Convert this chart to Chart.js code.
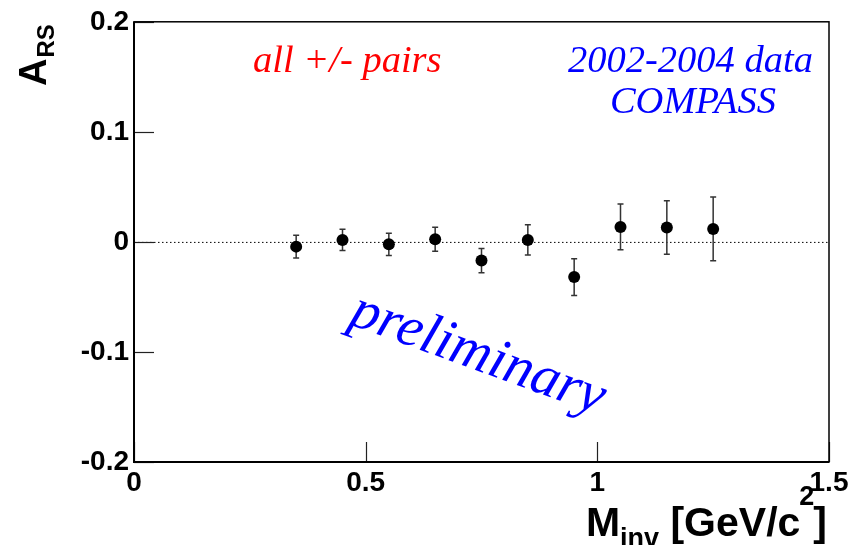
<!DOCTYPE html>
<html>
<head>
<meta charset="utf-8">
<script src="https://cdn.jsdelivr.net/npm/chart.js@4/dist/chart.umd.min.js"></script>
<style>
  html, body { margin: 0; padding: 0; background: #fff; }
  canvas { display: block; }
</style>
</head>
<body>
<canvas id="chart" width="857" height="545"></canvas>
<script>
// invariant mass bins and asymmetry
const massBins = [0.35, 0.45, 0.55, 0.65, 0.75, 0.85, 0.95, 1.05, 1.15, 1.25];
const asymmetry = [-0.0043, 0.0018, -0.0022, 0.0024, -0.017, 0.0018, -0.032, 0.0136, 0.013, 0.0118];
const asymErr = [0.0103, 0.0097, 0.0101, 0.0108, 0.0111, 0.0138, 0.0167, 0.0208, 0.0243, 0.0289];
const xTicks = [0, 0.5, 1, 1.5];
const yTicks = [-0.2, -0.1, 0, 0.1, 0.2];

const BOLD = '"Liberation Sans", Arial, sans-serif';
const SERIF = '"Liberation Serif", "Times New Roman", serif';

// frame, inner ticks, zero line and error bars (ROOT style)
const framePlugin = {
    id: 'framePlugin',
    beforeDatasetsDraw(chart) {
        const { ctx, chartArea: a, scales: { x, y } } = chart;
        ctx.save();

        // dotted line at zero
        const y0 = y.getPixelForValue(0);
        ctx.strokeStyle = '#000';
        ctx.lineWidth = 1;
        ctx.setLineDash([1.5, 2.5]);
        ctx.beginPath();
        ctx.moveTo(a.left, y0 + 0.5);
        ctx.lineTo(a.right, y0 + 0.5);
        ctx.stroke();
        ctx.setLineDash([]);

        // error bars
        ctx.strokeStyle = '#333';
        ctx.lineWidth = 1.5;
        massBins.forEach((m, i) => {
            const px = x.getPixelForValue(m);
            const top = y.getPixelForValue(asymmetry[i] + asymErr[i]);
            const bot = y.getPixelForValue(asymmetry[i] - asymErr[i]);
            ctx.beginPath();
            ctx.moveTo(px, top);
            ctx.lineTo(px, bot);
            ctx.moveTo(px - 3, top);
            ctx.lineTo(px + 3, top);
            ctx.moveTo(px - 3, bot);
            ctx.lineTo(px + 3, bot);
            ctx.stroke();
        });

        // ticks pointing inside
        ctx.strokeStyle = '#222';
        ctx.lineWidth = 1.2;
        yTicks.forEach(v => {
            const py = Math.round(y.getPixelForValue(v)) + 0.5;
            ctx.beginPath();
            ctx.moveTo(a.left, py);
            ctx.lineTo(a.left + 20, py);
            ctx.stroke();
        });
        xTicks.forEach(v => {
            const px = Math.round(x.getPixelForValue(v)) + 0.5;
            ctx.beginPath();
            ctx.moveTo(px, a.bottom);
            ctx.lineTo(px, a.bottom - 20);
            ctx.stroke();
        });

        // frame
        ctx.strokeStyle = '#000';
        ctx.lineWidth = 1.5;
        ctx.strokeRect(a.left, a.top, a.right - a.left, a.bottom - a.top);
        ctx.lineWidth = 2;
        ctx.beginPath();
        ctx.moveTo(a.left, a.top);
        ctx.lineTo(a.left, a.bottom);
        ctx.lineTo(a.right, a.bottom);
        ctx.stroke();
        ctx.restore();
    }
};

// titles and labels drawn on top
const textPlugin = {
    id: 'textPlugin',
    afterDraw(chart) {
        const { ctx } = chart;
        ctx.save();
        ctx.textBaseline = 'alphabetic';

        // y title: A_RS, rotated
        ctx.save();
        ctx.translate(46, 86);
        ctx.rotate(-Math.PI / 2);
        ctx.fillStyle = '#000';
        ctx.textAlign = 'left';
        ctx.font = 'bold 38px ' + BOLD;
        ctx.fillText('A', 0, 0);
        const wA = ctx.measureText('A').width;
        ctx.font = 'bold 24px ' + BOLD;
        ctx.fillText('RS', wA + 1, 8);
        ctx.restore();

        // x title: M_inv [GeV/c^2], right aligned to the frame
        ctx.fillStyle = '#000';
        ctx.textAlign = 'left';
        const big = 'bold 41px ' + BOLD;
        const small = 'bold 27px ' + BOLD;
        ctx.font = big;
        const wM = ctx.measureText('M').width;
        const wBr = ctx.measureText(' [GeV/c').width;
        const wEnd = ctx.measureText(']').width;
        ctx.font = small;
        const wInv = ctx.measureText('inv').width;
        const w2 = ctx.measureText('2').width;
        let xx = 829 - (wM + wInv + wBr + w2 + wEnd);
        const base = 536;
        ctx.font = big;
        ctx.fillText('M', xx, base); xx += wM;
        ctx.font = small;
        ctx.fillText('inv', xx, base + 11); xx += wInv;
        ctx.font = big;
        ctx.fillText(' [GeV/c', xx, base); xx += wBr;
        ctx.font = small;
        ctx.fillText('2', xx - 1, base - 31); xx += w2 - 2;
        ctx.font = big;
        ctx.fillText(']', xx, base);

        // annotations
        ctx.font = 'italic 38.5px ' + SERIF;
        ctx.fillStyle = '#ff0000';
        ctx.fillText('all +/- pairs', 253, 72);
        ctx.fillStyle = '#0000ff';
        ctx.fillText('2002-2004 data', 568, 72);
        ctx.textAlign = 'center';
        ctx.fillText('COMPASS', 693, 113);

        ctx.save();
        ctx.translate(478, 355);
        ctx.rotate(20 * Math.PI / 180);
        ctx.font = 'italic 57px ' + SERIF;
        ctx.textAlign = 'center';
        ctx.textBaseline = 'middle';
        ctx.fillText('preliminary', 0, 0);
        ctx.restore();

        ctx.restore();
    }
};

new Chart(document.getElementById('chart'), {
    type: 'scatter',
    data: {
        datasets: [{
            data: massBins.map((m, i) => ({ x: m, y: asymmetry[i] })),
            backgroundColor: '#000',
            borderColor: '#000',
            pointRadius: 6,
            pointHoverRadius: 6,
            borderWidth: 0
        }]
    },
    options: {
        responsive: false,
        animation: false,
        events: [],
        layout: { padding: { left: 0, top: 21, right: 28, bottom: 0 } },
        plugins: {
            legend: { display: false },
            tooltip: { enabled: false }
        },
        scales: {
            x: {
                type: 'linear',
                min: 0,
                max: 1.5,
                afterFit: s => { s.height = 83; },
                afterBuildTicks: s => { s.ticks = xTicks.map(v => ({ value: v })); },
                grid: { display: false, drawTicks: false },
                border: { display: false },
                ticks: {
                    padding: 4,
                    color: '#000',
                    font: { family: BOLD, size: 28, weight: 'bold' },
                    maxRotation: 0,
                    callback: v => String(v)
                }
            },
            y: {
                type: 'linear',
                min: -0.2,
                max: 0.2,
                afterFit: s => { s.width = 134; },
                afterBuildTicks: s => { s.ticks = yTicks.map(v => ({ value: v })); },
                grid: { display: false, drawTicks: false },
                border: { display: false },
                ticks: {
                    padding: 5,
                    color: '#000',
                    font: { family: BOLD, size: 28, weight: 'bold' },
                    callback: v => String(v)
                }
            }
        }
    },
    plugins: [framePlugin, textPlugin]
});
</script>
</body>
</html>
